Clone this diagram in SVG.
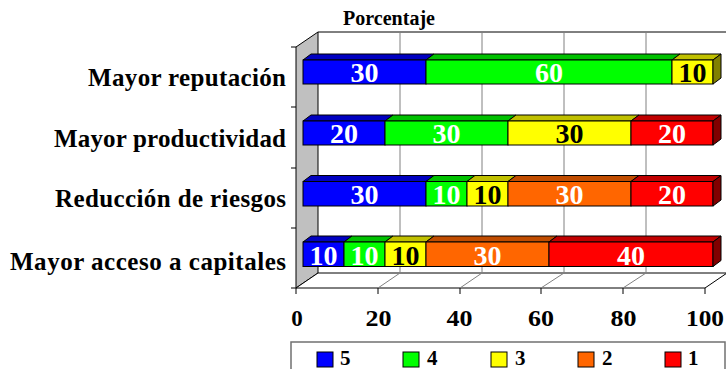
<svg xmlns="http://www.w3.org/2000/svg" width="726" height="369" viewBox="0 0 726 369">
<style>
text{font-family:"Liberation Serif","Times New Roman",serif;font-weight:bold}
.cat{font-size:25px;fill:#000}
.ax{font-size:23px;fill:#000;text-anchor:middle}
.val{font-size:28px;text-anchor:middle;fill:#fff}
.valk{font-size:28px;text-anchor:middle;fill:#000}
.grid{stroke:#808080;stroke-width:1;fill:none}
.edge{stroke:#000;stroke-width:1;fill:none}
.s{stroke:#000;stroke-width:1}
.b{fill:#0000ff}.bt{fill:#0000c0}.bs{fill:#000080}
.g{fill:#00ff00}.gt{fill:#00c000}.gs{fill:#008000}
.y{fill:#ffff00}.yt{fill:#c0c000}.ys{fill:#808000}
.o{fill:#ff6600}.ot{fill:#c04c00}.os{fill:#803300}
.r{fill:#ff0000}.rt{fill:#c00000}.rs{fill:#800000}
.leg{font-size:21px;fill:#000}
</style>
<rect width="726" height="369" fill="#fff"/>
<g id="plot-area">
  <polygon points="296,47 318,32 318,273 296,288" fill="#c0c0c0" stroke="#000" stroke-width="1"/>
  <polygon points="296,288 705,288 727,273 318,273" fill="#fff" stroke="#000" stroke-width="1"/>
  <line class="edge" x1="318" y1="32" x2="727" y2="32"/>
  <line class="grid" x1="400" y1="32" x2="400" y2="273"/>
  <line class="grid" x1="482" y1="32" x2="482" y2="273"/>
  <line class="grid" x1="564" y1="32" x2="564" y2="273"/>
  <line class="grid" x1="646" y1="32" x2="646" y2="273"/>
  <line class="grid" x1="400" y1="273" x2="378" y2="288"/>
  <line class="grid" x1="482" y1="273" x2="460" y2="288"/>
  <line class="grid" x1="564" y1="273" x2="541" y2="288"/>
  <line class="grid" x1="646" y1="273" x2="623" y2="288"/>
  <g class="edge">
    <line x1="291" y1="47" x2="296" y2="47"/>
    <line x1="291" y1="107" x2="296" y2="107"/>
    <line x1="291" y1="168" x2="296" y2="168"/>
    <line x1="291" y1="228" x2="296" y2="228"/>
    <line x1="291" y1="288" x2="296" y2="288"/>
    <line x1="296" y1="288" x2="296" y2="294"/>
    <line x1="378" y1="288" x2="378" y2="294"/>
    <line x1="460" y1="288" x2="460" y2="294"/>
    <line x1="541" y1="288" x2="541" y2="294"/>
    <line x1="623" y1="288" x2="623" y2="294"/>
    <line x1="705" y1="288" x2="705" y2="294"/>
  </g>
</g>
<text id="title" x="343" y="25" font-size="20" textLength="92">Porcentaje</text>
<g id="bar-reputacion" class="s">
  <polygon class="bt" points="303,60 311,54 434,54 426,60"/><rect class="b" x="303" y="60" width="123" height="24"/>
  <polygon class="gt" points="426,60 434,54 680,54 672,60"/><rect class="g" x="426" y="60" width="246" height="24"/>
  <polygon class="yt" points="672,60 680,54 721,54 713,60"/><rect class="y" x="672" y="60" width="41" height="24"/>
  <polygon class="ys" points="713,60 721,54 721,78 713,84"/>
</g>
<g id="bar-productividad" class="s">
  <polygon class="bt" points="303,121 311,115 393,115 385,121"/><rect class="b" x="303" y="121" width="82" height="24"/>
  <polygon class="gt" points="385,121 393,115 516,115 508,121"/><rect class="g" x="385" y="121" width="123" height="24"/>
  <polygon class="yt" points="508,121 516,115 639,115 631,121"/><rect class="y" x="508" y="121" width="123" height="24"/>
  <polygon class="rt" points="631,121 639,115 721,115 713,121"/><rect class="r" x="631" y="121" width="82" height="24"/>
  <polygon class="rs" points="713,121 721,115 721,139 713,145"/>
</g>
<g id="bar-riesgos" class="s">
  <polygon class="bt" points="303,181.5 311,175.5 434,175.5 426,181.5"/><rect class="b" x="303" y="181.5" width="123" height="24.5"/>
  <polygon class="gt" points="426,181.5 434,175.5 475,175.5 467,181.5"/><rect class="g" x="426" y="181.5" width="41" height="24.5"/>
  <polygon class="yt" points="467,181.5 475,175.5 516,175.5 508,181.5"/><rect class="y" x="467" y="181.5" width="41" height="24.5"/>
  <polygon class="ot" points="508,181.5 516,175.5 639,175.5 631,181.5"/><rect class="o" x="508" y="181.5" width="123" height="24.5"/>
  <polygon class="rt" points="631,181.5 639,175.5 721,175.5 713,181.5"/><rect class="r" x="631" y="181.5" width="82" height="24.5"/>
  <polygon class="rs" points="713,181.5 721,175.5 721,200 713,206"/>
</g>
<g id="bar-capitales" class="s">
  <polygon class="bt" points="303,242 311,236 352,236 344,242"/><rect class="b" x="303" y="242" width="41" height="24.5"/>
  <polygon class="gt" points="344,242 352,236 393,236 385,242"/><rect class="g" x="344" y="242" width="41" height="24.5"/>
  <polygon class="yt" points="385,242 393,236 434,236 426,242"/><rect class="y" x="385" y="242" width="41" height="24.5"/>
  <polygon class="ot" points="426,242 434,236 557,236 549,242"/><rect class="o" x="426" y="242" width="123" height="24.5"/>
  <polygon class="rt" points="549,242 557,236 721,236 713,242"/><rect class="r" x="549" y="242" width="164" height="24.5"/>
  <polygon class="rs" points="713,242 721,236 721,260.5 713,266.5"/>
</g>
<g id="value-labels">
  <text class="val" x="364.5" y="82">30</text>
  <text class="val" x="549" y="82">60</text>
  <text class="valk" x="692.5" y="82">10</text>
  <text class="val" x="344" y="143">20</text>
  <text class="val" x="446.5" y="143">30</text>
  <text class="valk" x="569.5" y="143">30</text>
  <text class="val" x="672" y="143">20</text>
  <text class="val" x="364.5" y="204">30</text>
  <text class="val" x="446.5" y="204">10</text>
  <text class="valk" x="487.5" y="204">10</text>
  <text class="val" x="569.5" y="204">30</text>
  <text class="val" x="672" y="204">20</text>
  <text class="val" x="323.5" y="264.5">10</text>
  <text class="val" x="364.5" y="264.5">10</text>
  <text class="valk" x="405.5" y="264.5">10</text>
  <text class="val" x="487.5" y="264.5">30</text>
  <text class="val" x="631" y="264.5">40</text>
</g>
<g id="category-labels">
  <text class="cat" x="88" y="86" textLength="198">Mayor reputación</text>
  <text class="cat" x="54" y="147" textLength="232">Mayor productividad</text>
  <text class="cat" x="55" y="207" textLength="231">Reducción de riesgos</text>
  <text class="cat" x="10" y="270" textLength="276">Mayor acceso a capitales</text>
</g>
<g id="axis-labels">
  <text class="ax" x="297" y="326">0</text>
  <text class="ax" x="378.5" y="326" textLength="26" lengthAdjust="spacingAndGlyphs">20</text>
  <text class="ax" x="459.5" y="326" textLength="26" lengthAdjust="spacingAndGlyphs">40</text>
  <text class="ax" x="541" y="326" textLength="26" lengthAdjust="spacingAndGlyphs">60</text>
  <text class="ax" x="623.5" y="326" textLength="26" lengthAdjust="spacingAndGlyphs">80</text>
  <text class="ax" x="705" y="326" textLength="38" lengthAdjust="spacingAndGlyphs">100</text>
</g>
<g id="legend">
  <rect x="291" y="342" width="434" height="34" fill="#fff" stroke="#707070" stroke-width="1.5"/>
  <rect class="b s" x="317" y="352" width="16" height="15"/>
  <text class="leg" x="340" y="364.5">5</text>
  <rect class="g s" x="403" y="352" width="16" height="15"/>
  <text class="leg" x="427" y="364.5">4</text>
  <rect class="y s" x="491" y="352" width="16" height="15"/>
  <text class="leg" x="515" y="364.5">3</text>
  <rect class="o s" x="578" y="352" width="16" height="15"/>
  <text class="leg" x="602" y="364.5">2</text>
  <rect class="r s" x="665" y="352" width="16" height="15"/>
  <text class="leg" x="688" y="364.5">1</text>
</g>
</svg>
